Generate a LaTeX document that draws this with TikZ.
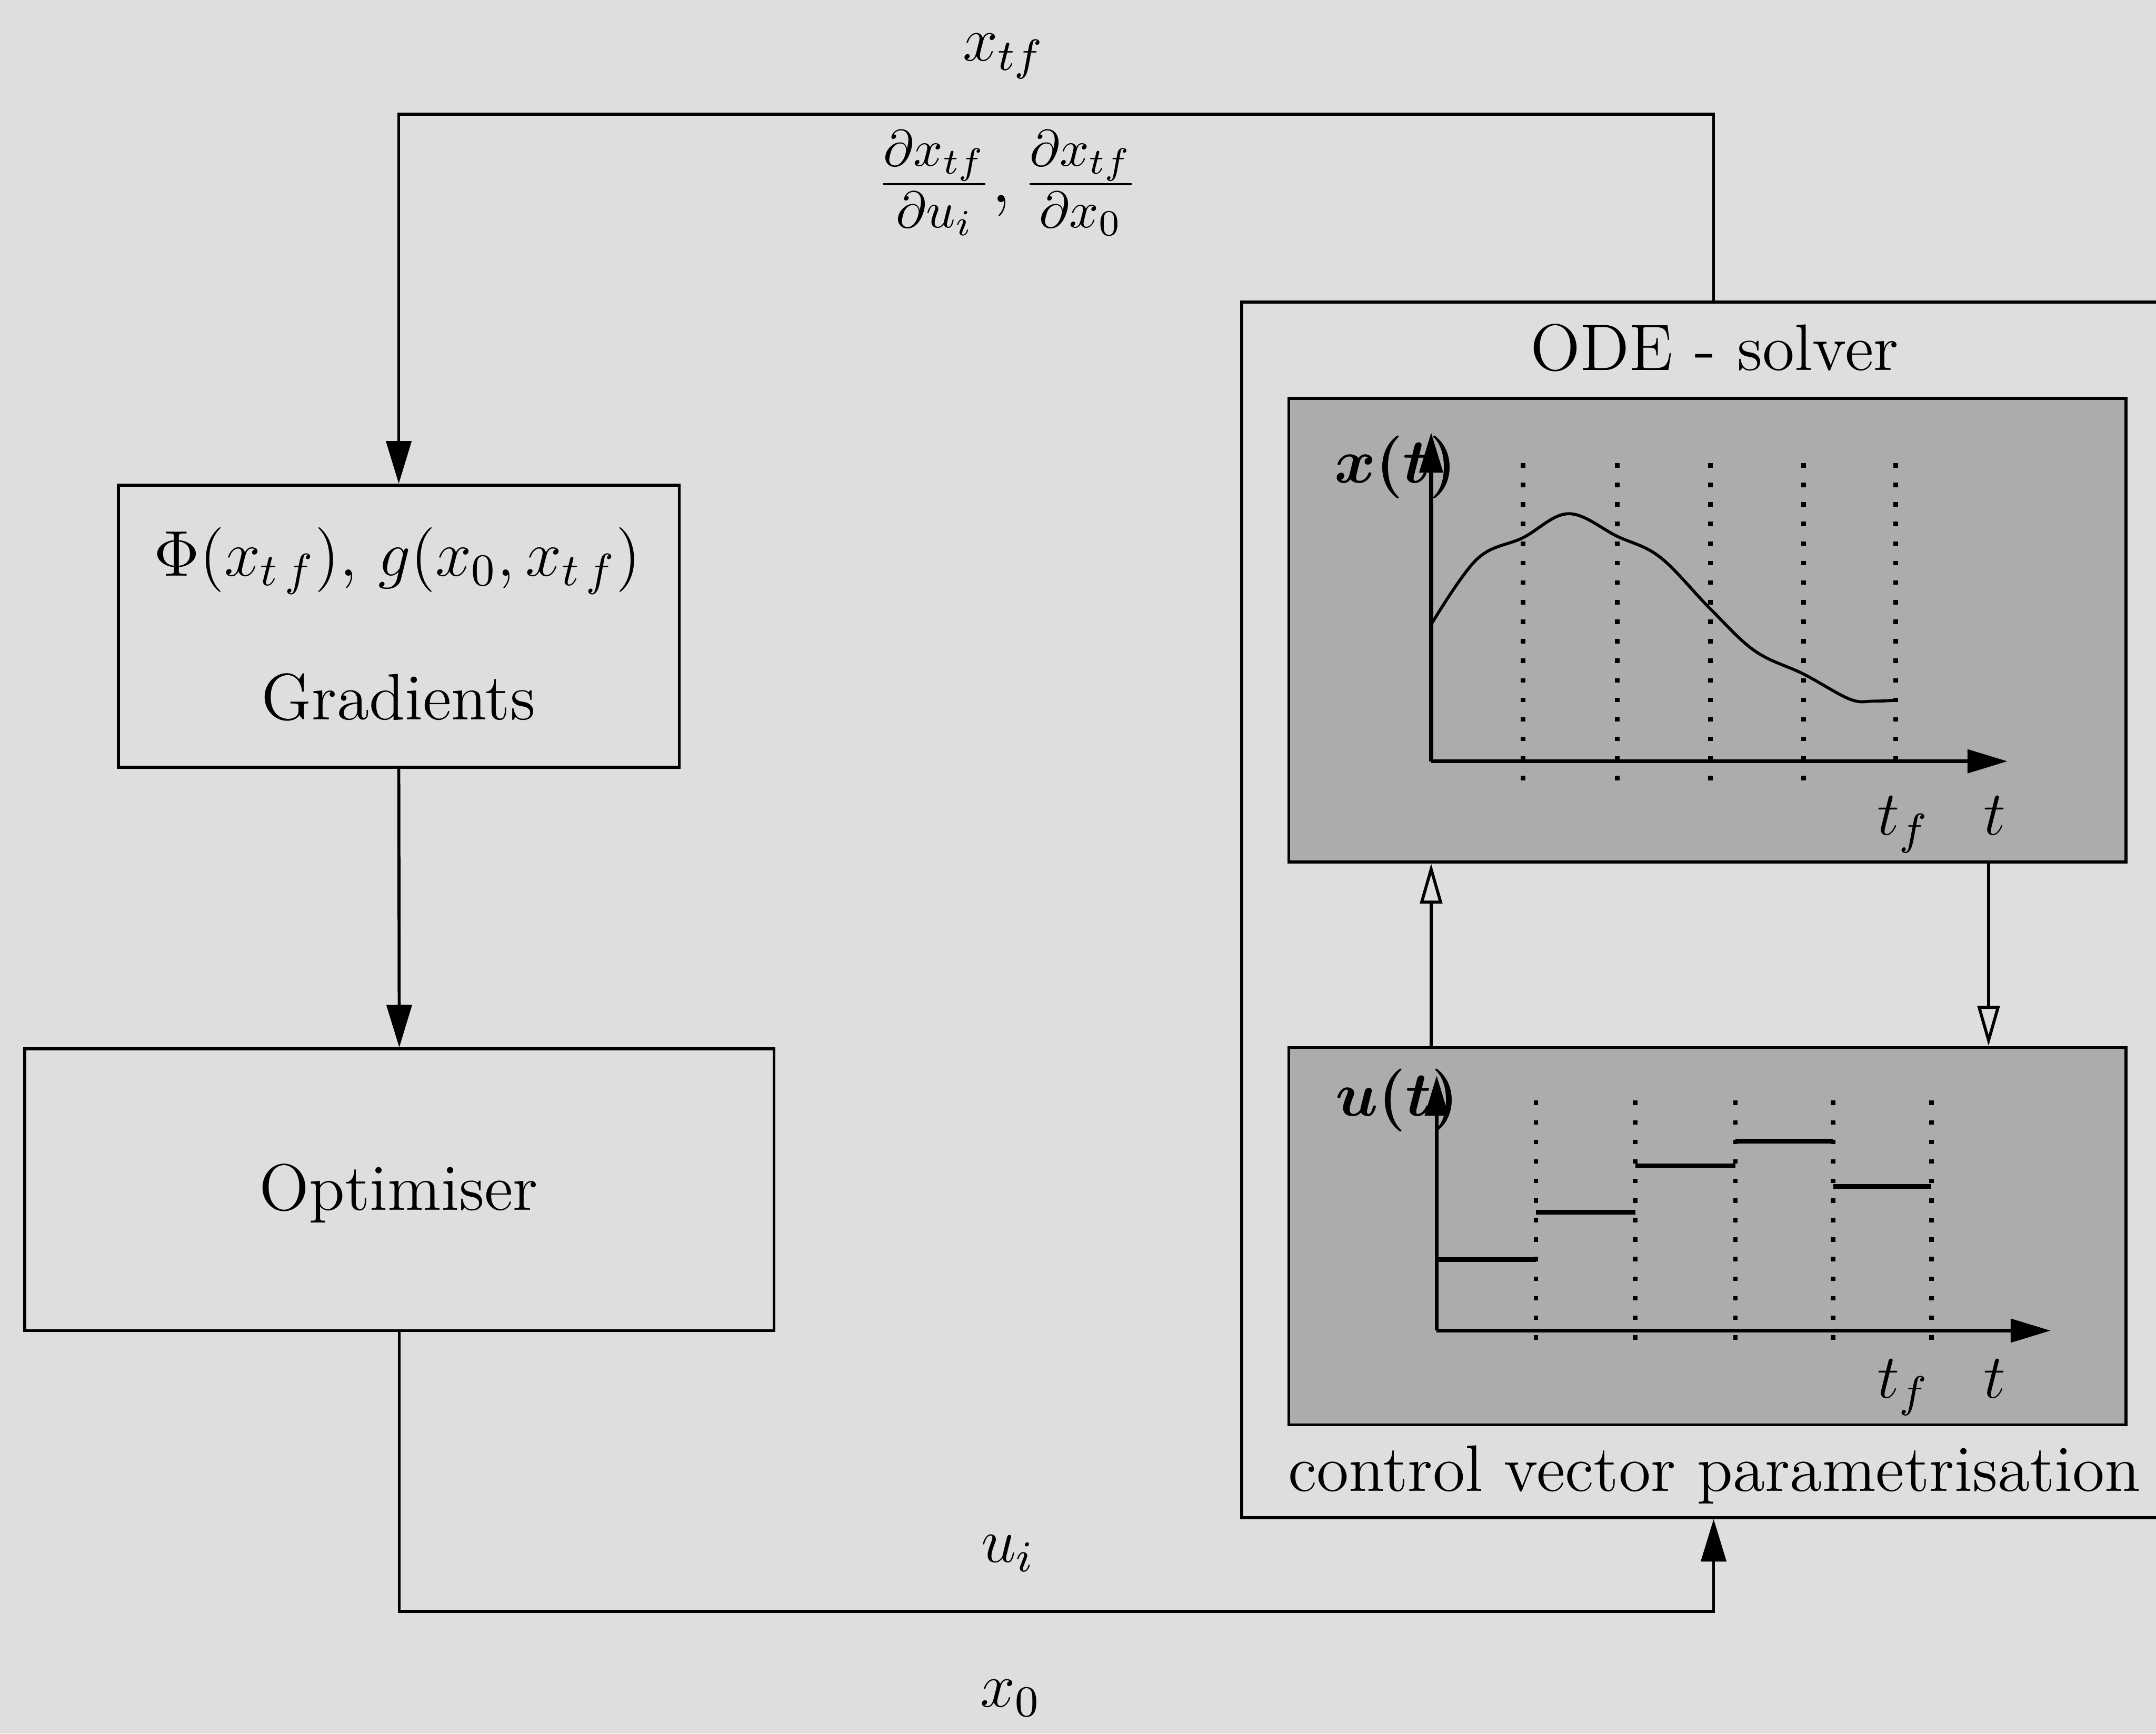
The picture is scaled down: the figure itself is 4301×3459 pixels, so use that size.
\RequirePackage{fix-cm}
\documentclass[tikz,border=0pt]{standalone}
\usepackage{bm}
\usepackage{fontspec}
\usetikzlibrary{arrows.meta}
\definecolor{bgc}{RGB}{222,222,222}
\definecolor{panelc}{RGB}{172,172,172}
\begin{document}
\begin{tikzpicture}[x=0.1pt,y=-0.1pt,
  every node/.style={font=\fontsize{12.5}{15}\selectfont, inner sep=0pt},
  txt/.style={font=\fontsize{13.1}{16}\selectfont},
  boxst/.style={draw, line width=0.6pt, inner sep=0pt},
  conn/.style={line width=0.6pt},
  arr/.style={conn, -{Triangle[length=8.5pt,width=5pt]}},
  oarr/.style={conn, -{Triangle[open,length=8pt,width=4.4pt,line width=0.6pt]}},
  axisst/.style={line width=0.8pt, -{Triangle[length=8pt,width=4.6pt]}},
  gridst/.style={line width=0.9pt, dash pattern=on 0.9pt off 3pt},
  stepl/.style={line width=0.9pt},
  curvest/.style={line width=0.6pt}
]
\useasboundingbox (0,0) rectangle (4301,3459);
\fill[bgc] (0,0) rectangle (4301,3459);

% left column boxes
\node[boxst, minimum width=111.9pt, minimum height=56.3pt] (grad) at (795.5,1249.5) {};
\node[boxst, minimum width=149.5pt, minimum height=56.2pt] (opt) at (796.5,2374) {};
\node[font=\fontsize{12.9}{16}\selectfont] (gt1) at (793,1119) {$\Phi(x_{t\,f})$, $g(x_0, x_{t\,f})$};
\node[txt] (gt2) at (795,1391) {Gradients};
\node[txt] (optt) at (795,2381) {Optimiser};

% ODE solver block
\node[boxst, minimum width=188.3pt, minimum height=242.5pt] (ode) at (3418.5,1815.5) {};
\node[txt] (odet) at (3420,694) {ODE - solver};
\node[txt] (cvp) at (3420,2943) {control vector parametrisation};
\node[boxst, fill=panelc, minimum width=167pt, minimum height=92.5pt] (xplot) at (3406,1257.5) {};
\node[boxst, fill=panelc, minimum width=167pt, minimum height=75.3pt] (uplot) at (3406,2466.5) {};

% outer connectors
\coordinate (ty) at (0,228);
\coordinate (by) at (0,3215);
\draw[arr] (ode.north) -- (ode.north |- ty) -| (grad.north);
\draw[arr] (grad.south) -- (opt.north);
\draw[arr] (opt.south) -- (opt.south |- by) -| (ode.south);
\node (lxtf) at (2002,112) {$x_{tf}$};
\node[font=\fontsize{14.6}{17}\selectfont] (lder) at (2010,365) {$\frac{\partial x_{tf}}{\partial u_i}, \frac{\partial x_{tf}}{\partial x_0}$};
\node (lui) at (2011,3100) {$u_i$};
\node (lx0) at (2016,3388) {$x_0$};

% plot coordinates
\coordinate (xo) at (2855,1519);
\coordinate (uo) at (2866,2655);
\coordinate (dn) at (3967,0);

% arrows between panels
\draw[oarr] (uplot.north -| xo) -- (xplot.south -| xo);
\draw[oarr] (xplot.south -| dn) -- (uplot.north -| dn);

% upper plot
\node[anchor=base west] (xl) at (2660,963) {$\bm{x(t)}$};
\node[anchor=base west] (xtf) at (3743,1666) {$t_f$};
\node[anchor=base west] (xt) at (3955,1666) {$t$};
\foreach \x in {3038,3226,3412,3598} \draw[gridst] (\x,924) -- (\x,1575);
\draw[gridst] (3782,924) -- (3782,1530);
\draw[curvest] plot[smooth, tension=0.6] coordinates {(2855,1246) (2946,1116) (3038,1073) (3129,1025) (3226,1070) (3312,1112) (3412,1215) (3501,1299) (3598,1345) (3690,1395) (3737,1399) (3782,1397)};
\draw[axisst] (xo) -- (2855,863);
\draw[axisst] (xo) -- (4005,1519);

% lower plot
\node[anchor=base west] (ul) at (2662,2227) {$\bm{u(t)}$};
\node[anchor=base west] (utf) at (3743,2789) {$t_f$};
\node[anchor=base west] (ut) at (3955,2789) {$t$};
\foreach \x in {3064,3262,3462,3657,3853} \draw[gridst] (\x,2196) -- (\x,2691);
\draw[stepl] (2866,2513) -- (3064,2513);
\draw[stepl] (3064,2419) -- (3262,2419);
\draw[stepl] (3262,2326) -- (3462,2326);
\draw[stepl] (3462,2277) -- (3657,2277);
\draw[stepl] (3657,2367) -- (3853,2367);
\draw[axisst] (uo) -- (2866,2146);
\draw[axisst] (uo) -- (4091,2655);
\end{tikzpicture}
\end{document}
